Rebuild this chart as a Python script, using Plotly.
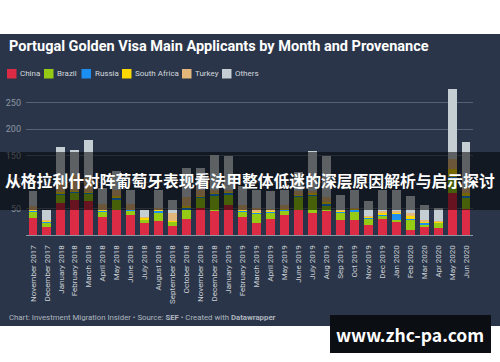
import plotly.graph_objects as go

months = ["November 2017", "December 2017", "January 2018", "February 2018", "March 2018",
          "April 2018", "May 2018", "June 2018", "July 2018", "August 2018", "September 2018",
          "October 2018", "November 2018", "December 2018", "January 2019", "February 2019",
          "March 2019", "April 2019", "May 2019", "June 2019", "July 2019", "Aug 2019",
          "Sep 2019", "Oct 2019", "Nov 2019", "Dec 2019", "Jan 2020", "Feb 2020", "Mar 2020",
          "Apr 2020", "May 2020", "Jun 2020"]

china = [33, 15, 60, 66, 64, 35, 48, 37, 23, 26, 17, 31, 51, 45, 56, 34,
         22, 31, 37, 47, 42, 46, 28, 29, 18, 31, 26, 10, 17, 14, 80, 50]
brazil = [11, 9, 16, 14, 14, 9, 19, 9, 7, 16, 8, 17, 19, 30, 21, 11,
          17, 11, 9, 25, 33, 8, 14, 14, 14, 6, 3, 19, 3, 9, 25, 20]
russia = [3, 1, 3, 3, 3, 2, 3, 2, 0, 4, 0, 4, 3, 3, 3, 2,
          4, 2, 2, 2, 2, 6, 3, 6, 1, 1, 11, 1, 3, 1, 4, 4]
south_africa = [1, 2, 3, 1, 1, 1, 3, 0, 3, 1, 2, 2, 1, 2, 1, 1,
                1, 1, 1, 1, 3, 2, 1, 1, 2, 4, 3, 6, 2, 1, 15, 5]
turkey = [6, 2, 19, 30, 25, 12, 13, 10, 2, 5, 14, 18, 12, 6, 5, 8,
          7, 5, 8, 8, 4, 10, 2, 2, 1, 4, 3, 6, 4, 1, 20, 10]
others = [30, 19, 65, 47, 72, 30, 36, 28, 12, 34, 25, 55, 41, 66, 63, 36,
          35, 33, 29, 37, 75, 78, 27, 34, 28, 40, 40, 31, 27, 25, 132, 87]

series_names = ["China", "Brazil", "Russia", "South Africa", "Turkey", "Others"]
series_values = [china, brazil, russia, south_africa, turkey, others]
series_colors = ["#dc2b45", "#95cb15", "#1c8ff2", "#fbd800", "#e3b77a", "#c5ced3"]

y_ticks = [50, 100, 150, 200, 250]

W_PX, H_PX = 500, 362
L, R, T, B = 26, 27, 87, 127
PW = W_PX - L - R
PH = H_PX - T - B


def px_x(px):
    return (px - L) / PW


def px_y(py):
    return (H_PX - B - py) / PH


fig = go.Figure()
for name, vals, col in zip(series_names, series_values, series_colors):
    fig.add_trace(go.Bar(x=months, y=vals, name=name, marker_color=col,
                         marker_line_width=0, showlegend=False, hoverinfo="skip"))

FONT = "Roboto, 'Noto Sans', sans-serif"
CJK = "'Noto Sans CJK SC', 'Noto Sans', sans-serif"

shapes = []
annotations = []

# dark panel
shapes.append(dict(type="rect", xref="paper", yref="paper", layer="below",
                   x0=px_x(0), x1=px_x(500), y0=px_y(326), y1=px_y(34),
                   fillcolor="#2a3549", line_width=0))

# title
annotations.append(dict(xref="paper", yref="paper", x=px_x(6.5), y=px_y(46.5),
                        xanchor="left", yanchor="middle", showarrow=False,
                        text="<b>Portugal Golden Visa Main Applicants by Month and Provenance</b>",
                        font=dict(family=FONT, size=14.5, color="#ffffff")))

# legend (manual)
leg_x = [7, 44, 81.5, 122, 182, 222]
for lx, name, col in zip(leg_x, series_names, series_colors):
    shapes.append(dict(type="rect", xref="paper", yref="paper",
                       x0=px_x(lx), x1=px_x(lx + 9.5), y0=px_y(78.5), y1=px_y(69),
                       fillcolor=col, line_width=0))
    annotations.append(dict(xref="paper", yref="paper", x=px_x(lx + 11), y=px_y(74),
                            xanchor="left", yanchor="middle", showarrow=False,
                            text=name, font=dict(family=FONT, size=8, color="#d3d7dd")))

# footer
annotations.append(dict(xref="paper", yref="paper", x=px_x(7), y=px_y(317),
                        xanchor="left", yanchor="middle", showarrow=False,
                        text="Chart: Investment Migration Insider \u2022 Source: <b>SEF</b> \u2022 Created with <b>Datawrapper</b>",
                        font=dict(family=FONT, size=7.8, color="#aeb5bf")))

# banner overlay
shapes.append(dict(type="rect", xref="paper", yref="paper", layer="above",
                   x0=px_x(0), x1=px_x(500), y0=px_y(210), y1=px_y(152),
                   fillcolor="rgba(0,0,0,0.53)", line_width=0))
annotations.append(dict(xref="paper", yref="paper", x=px_x(250), y=px_y(180),
                        xanchor="center", yanchor="middle", showarrow=False,
                        text="<b>从格拉利什对阵葡萄牙表现看法甲整体低迷的深层原因解析与启示探讨</b>",
                        font=dict(family=CJK, size=15.8, color="#ffffff")))

# watermark box
shapes.append(dict(type="rect", xref="paper", yref="paper", layer="above",
                   x0=px_x(330), x1=px_x(491), y0=px_y(353), y1=px_y(315),
                   fillcolor="#0b0e13", line_width=0))
annotations.append(dict(xref="paper", yref="paper", x=px_x(410), y=px_y(334.5),
                        xanchor="center", yanchor="middle", showarrow=False,
                        text="<b>www.zhc-pa.com</b>",
                        font=dict(family=CJK, size=17.5, color="#ffffff")))

fig.update_layout(
    width=W_PX, height=H_PX,
    margin=dict(l=L, r=R, t=T, b=B, pad=0, autoexpand=False),
    paper_bgcolor="#ffffff",
    plot_bgcolor="rgba(0,0,0,0)",
    barmode="stack",
    bargap=0.36,
    showlegend=False,
    hovermode=False,
    shapes=shapes,
    annotations=annotations,
    xaxis=dict(type="category", tickangle=-90, showgrid=False, automargin=False,
               tickfont=dict(family=FONT, size=8, color="#cdd1d7"),
               showline=True, linecolor="#8d96a3", linewidth=1,
               ticks="", ticklabelstandoff=6, fixedrange=True),
    yaxis=dict(range=[0, 280], tickvals=y_ticks, showgrid=True, automargin=False,
               gridcolor="#566173", gridwidth=1, zeroline=False,
               tickfont=dict(family=FONT, size=9, color="#8e97a4"),
               ticks="", ticklabelstandoff=4, fixedrange=True),
)

fig.write_html("out.html", config={"displayModeBar": False},
               post_script="document.body.style.margin='0';")
